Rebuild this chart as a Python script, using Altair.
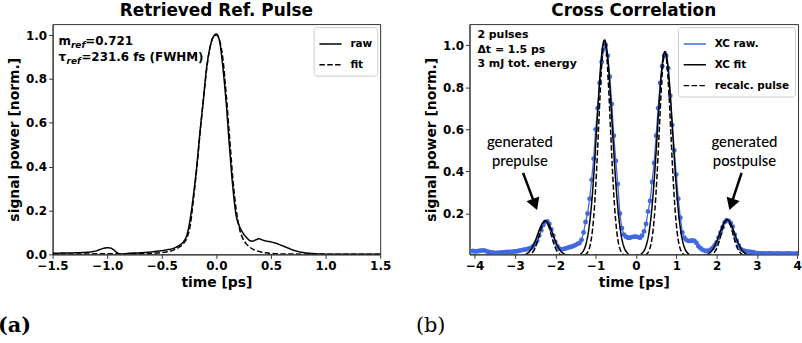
import altair as alt
import pandas as pd
import numpy as np

# ---------------- data: (a) retrieved reference pulse ----------------
ref_t = [-1.5, -1.4, -1.3, -1.2, -1.15, -1.1, -1.05, -1.0, -0.97, -0.94, -0.91, -0.88, -0.85, -0.8,
         -0.7, -0.6, -0.5, -0.45, -0.4, -0.35, -0.3, -0.27, -0.24, -0.21, -0.18, -0.15, -0.12, -0.09,
         -0.06, -0.03, 0.0, 0.03, 0.06, 0.09, 0.12, 0.15, 0.18, 0.21, 0.24, 0.27, 0.3, 0.33, 0.36,
         0.39, 0.42, 0.46, 0.5, 0.55, 0.6, 0.65, 0.7, 0.75, 0.8, 0.9, 1.0, 1.1, 1.2, 1.3, 1.4, 1.5]
ref_raw = [0.005, 0.006, 0.007, 0.009, 0.011, 0.016, 0.025, 0.030, 0.029, 0.020, 0.008, 0.002, 0.002, 0.005,
           0.007, 0.011, 0.017, 0.021, 0.026, 0.038, 0.058, 0.088, 0.16, 0.27, 0.40, 0.56, 0.70, 0.85,
           0.94, 0.99, 1.005, 0.97, 0.85, 0.69, 0.49, 0.31, 0.18, 0.13, 0.10, 0.08, 0.065, 0.060, 0.066,
           0.071, 0.066, 0.060, 0.057, 0.050, 0.040, 0.030, 0.020, 0.013, 0.008, 0.003, 0.001, 0.0, 0.0, 0.0, 0.0, 0.0]
fit_t = [-1.5, -1.2, -0.9, -0.7, -0.6, -0.5, -0.45, -0.4, -0.35, -0.3, -0.27, -0.24, -0.21, -0.18, -0.15,
         -0.12, -0.09, -0.06, -0.03, 0.0, 0.03, 0.06, 0.09, 0.12, 0.15, 0.18, 0.21, 0.24, 0.27, 0.3,
         0.35, 0.4, 0.45, 0.5, 0.6, 0.8, 1.0, 1.5]
fit_v = [0.001, 0.002, 0.003, 0.003, 0.004, 0.008, 0.012, 0.018, 0.030, 0.050, 0.075, 0.13, 0.25, 0.39, 0.55,
         0.70, 0.84, 0.94, 0.99, 1.0, 0.975, 0.89, 0.73, 0.54, 0.35, 0.21, 0.12, 0.075, 0.05, 0.035,
         0.02, 0.012, 0.007, 0.004, 0.002, 0.001, 0.001, 0.001]

# ---------------- data: (b) cross correlation ----------------
xc_t0, xc_dt = -4.10, 0.05
xc_raw = [
    0.020, 0.022, 0.020, 0.020, 0.022, 0.024, 0.025, 0.024, 0.020, 0.017,
    0.015, 0.014, 0.013, 0.013, 0.014, 0.014, 0.015, 0.016, 0.017, 0.017,
    0.018, 0.019, 0.020, 0.021, 0.023, 0.025, 0.027, 0.029, 0.031, 0.034,
    0.037, 0.045, 0.056, 0.072, 0.095, 0.120, 0.145, 0.160, 0.162, 0.150,
    0.125, 0.095, 0.065, 0.045, 0.033, 0.030, 0.031, 0.034, 0.037, 0.040,
    0.042, 0.046, 0.050, 0.056, 0.060, 0.075, 0.110, 0.160, 0.200, 0.270,
    0.360, 0.460, 0.600, 0.700, 0.820, 0.920, 0.980, 1.000, 0.950, 0.850,
    0.720, 0.570, 0.450, 0.340, 0.200, 0.130, 0.100, 0.090, 0.085, 0.085,
    0.088, 0.090, 0.090, 0.088, 0.085, 0.095, 0.115, 0.150, 0.210, 0.260,
    0.350, 0.440, 0.570, 0.700, 0.820, 0.900, 0.950, 0.950, 0.890, 0.760,
    0.620, 0.500, 0.385, 0.270, 0.180, 0.110, 0.085, 0.075, 0.070, 0.070,
    0.072, 0.070, 0.060, 0.045, 0.035, 0.028, 0.024, 0.022, 0.024, 0.028,
    0.036, 0.048, 0.063, 0.085, 0.110, 0.135, 0.158, 0.168, 0.165, 0.155,
    0.138, 0.100, 0.070, 0.048, 0.032, 0.025, 0.022, 0.020, 0.019, 0.018,
    0.016, 0.014, 0.012, 0.011, 0.010, 0.010, 0.010, 0.009, 0.010, 0.010,
    0.009, 0.009, 0.010, 0.010, 0.009, 0.009, 0.009, 0.010, 0.010, 0.009,
    0.009, 0.009, 0.010, 0.010, 0.009]

peak_centers = [-2.25, -0.78, 0.72, 2.26]
fit_offsets = [-0.60, -0.55, -0.50, -0.45, -0.40, -0.35, -0.30, -0.25, -0.20, -0.15, -0.10, -0.05, 0.0,
               0.05, 0.10, 0.15, 0.20, 0.25, 0.30, 0.35, 0.40, 0.45, 0.50, 0.55, 0.60]
xc_fit = [
    [0.001, 0.0025, 0.005, 0.010, 0.018, 0.030, 0.048, 0.069, 0.095, 0.121, 0.144, 0.159, 0.165,
     0.159, 0.144, 0.121, 0.095, 0.069, 0.048, 0.030, 0.018, 0.010, 0.005, 0.0025, 0.001],
    [0.007, 0.0155, 0.032, 0.062, 0.112, 0.188, 0.295, 0.432, 0.589, 0.750, 0.893, 0.990, 1.025,
     0.990, 0.893, 0.750, 0.589, 0.432, 0.295, 0.188, 0.112, 0.062, 0.032, 0.0155, 0.007],
    [0.0066, 0.0146, 0.030, 0.059, 0.106, 0.178, 0.279, 0.408, 0.558, 0.710, 0.845, 0.937, 0.970,
     0.937, 0.845, 0.710, 0.558, 0.408, 0.279, 0.178, 0.106, 0.059, 0.030, 0.0146, 0.0066],
    [0.0012, 0.0026, 0.005, 0.010, 0.019, 0.031, 0.049, 0.072, 0.098, 0.124, 0.148, 0.164, 0.170,
     0.164, 0.148, 0.124, 0.098, 0.072, 0.049, 0.031, 0.019, 0.010, 0.005, 0.0026, 0.0012],
]
pulse_offsets = [-0.50, -0.45, -0.40, -0.35, -0.30, -0.25, -0.20, -0.15, -0.10, -0.05, 0.0,
                 0.05, 0.10, 0.15, 0.20, 0.25, 0.30, 0.35, 0.40, 0.45, 0.50]
xc_pulse = [
    [0.0004, 0.0013, 0.004, 0.009, 0.019, 0.037, 0.064, 0.097, 0.130, 0.155, 0.165,
     0.155, 0.130, 0.097, 0.064, 0.037, 0.019, 0.009, 0.004, 0.0013, 0.0004],
    [0.003, 0.008, 0.023, 0.055, 0.120, 0.231, 0.394, 0.598, 0.804, 0.961, 1.020,
     0.961, 0.804, 0.598, 0.394, 0.231, 0.120, 0.055, 0.023, 0.008, 0.003],
    [0.0025, 0.008, 0.021, 0.052, 0.114, 0.218, 0.372, 0.565, 0.760, 0.909, 0.965,
     0.909, 0.760, 0.565, 0.372, 0.218, 0.114, 0.052, 0.021, 0.008, 0.0025],
    [0.0004, 0.0014, 0.004, 0.009, 0.020, 0.038, 0.066, 0.100, 0.134, 0.160, 0.170,
     0.160, 0.134, 0.100, 0.066, 0.038, 0.020, 0.009, 0.004, 0.0014, 0.0004],
]

# annotation texts
left_main = ["m", "=0.721", "τ", "=231.6 fs (FWHM)"]
left_sub = ["ref", "ref"]
right_notes = ["2 pulses", "Δt = 1.5 ps", "3 mJ tot. energy"]
arrow_labels = [["generated", "prepulse"], ["generated", "postpulse"]]
arrow_text_t = [-2.88, 2.69]
arrow_start = [(-2.80, 0.393), (2.62, 0.393)]
arrow_end = [(-2.55, 0.265), (2.40, 0.266)]
arrow_head = [(-2.505, 0.243), (2.364, 0.243)]
arrow_angle = [339.5, 18.4]

FONT = "DejaVu Sans"
BLUE = "#4169E1"
W1, W2, H = 330, 331, 232
XR_DOM = [-4.13, 4.02]
YR_DOM = [0.006, 1.10]

# ---------------- panel (a) ----------------
left_df = pd.concat([
    pd.DataFrame({"t": ref_t, "v": ref_raw, "series": "raw"}),
    pd.DataFrame({"t": fit_t, "v": fit_v, "series": "fit"}),
])

xL = alt.X("t:Q", scale=alt.Scale(domain=[-1.5, 1.5], nice=False, zero=False),
           axis=alt.Axis(values=[-1.5, -1.0, -0.5, 0.0, 0.5, 1.0, 1.5], format=".1f", title="time [ps]"))
yL = alt.Y("v:Q", scale=alt.Scale(domain=[0, 1.05], nice=False),
           axis=alt.Axis(values=[0.0, 0.2, 0.4, 0.6, 0.8, 1.0], format=".1f", title="signal power [norm.]"))

legend_common = dict(title=None, orient="top-right", offset=3, padding=5, fillColor="white",
                     strokeColor="#cccccc", cornerRadius=3, labelFont=FONT, labelFontSize=10.5,
                     labelFontWeight="bold", labelColor="black", symbolType="stroke", symbolSize=500,
                     symbolStrokeWidth=1.5, rowPadding=3, labelOffset=8)

left_lines = alt.Chart(left_df).mark_line(color="black", strokeWidth=1.5, interpolate="monotone", clip=True).encode(
    x=xL, y=yL,
    strokeDash=alt.StrokeDash("series:N", scale=alt.Scale(domain=["raw", "fit"], range=[[1, 0], [5.5, 2.4]]),
                              legend=alt.Legend(symbolStrokeColor="black", **legend_common)),
)

lm_df = pd.DataFrame({"txt": left_main, "px": [6, 33, 6, 29], "py": [21, 21, 37.5, 37.5]})
ls_df = pd.DataFrame({"txt": left_sub, "px": [18.5, 14], "py": [24, 40.5]})
left_text = alt.Chart(lm_df).mark_text(align="left", baseline="alphabetic", font=FONT, fontWeight="bold",
                                       fontSize=12, color="black").encode(
    x=alt.X("px:Q", scale=None), y=alt.Y("py:Q", scale=None), text="txt:N")
left_sub_text = alt.Chart(ls_df).mark_text(align="left", baseline="alphabetic", font=FONT, fontWeight="bold",
                                           fontStyle="italic", fontSize=9, color="black").encode(
    x=alt.X("px:Q", scale=None), y=alt.Y("py:Q", scale=None), text="txt:N")
lab_a = alt.Chart(pd.DataFrame({"l": ["(a)"]})).mark_text(
    align="left", baseline="alphabetic", font="DejaVu Serif", fontSize=21, fontWeight="bold", color="black"
).encode(x=alt.value(-55), y=alt.value(310), text="l:N")

left = alt.layer(left_lines, left_text, left_sub_text, lab_a).properties(
    width=W1, height=H, title="Retrieved Ref. Pulse")

# ---------------- panel (b) ----------------
xc_t = np.round(xc_t0 + xc_dt * np.arange(len(xc_raw)), 3)
raw_df = pd.DataFrame({"t": xc_t, "v": xc_raw, "series": "XC raw.", "peak": 0})
rows = []
for k, c in enumerate(peak_centers):
    rows.append(pd.DataFrame({"t": np.round(c + np.array(fit_offsets), 3), "v": xc_fit[k],
                              "series": "XC fit", "peak": k + 1}))
    rows.append(pd.DataFrame({"t": np.round(c + np.array(pulse_offsets), 3), "v": xc_pulse[k],
                              "series": "recalc. pulse", "peak": k + 11}))
fits_df = pd.concat(rows)

dom = ["XC raw.", "XC fit", "recalc. pulse"]
xR = alt.X("t:Q", scale=alt.Scale(domain=XR_DOM, nice=False, zero=False),
           axis=alt.Axis(values=[-4, -3, -2, -1, 0, 1, 2, 3, 4], format="d", title="time [ps]"))
yR = alt.Y("v:Q", scale=alt.Scale(domain=YR_DOM, nice=False, zero=False),
           axis=alt.Axis(values=[0.2, 0.4, 0.6, 0.8, 1.0], format=".1f", title="signal power [norm.]"))
colR = alt.Color("series:N", scale=alt.Scale(domain=dom, range=[BLUE, "black", "black"]),
                 legend=alt.Legend(**legend_common))
dashR = alt.StrokeDash("series:N", scale=alt.Scale(domain=dom, range=[[1, 0], [1, 0], [5.5, 2.4]]),
                       legend=alt.Legend(**legend_common))

raw_line = alt.Chart(raw_df).mark_line(strokeWidth=1.3, clip=True).encode(
    x=xR, y=yR, color=colR, strokeDash=dashR)
raw_pts = alt.Chart(raw_df).mark_circle(size=24, color=BLUE, opacity=1, clip=True).encode(x=xR, y=yR)
fit_lines = alt.Chart(fits_df).mark_line(strokeWidth=1.5, interpolate="monotone", clip=True).encode(
    x=xR, y=yR, color=colR, strokeDash=dashR, detail="peak:N")

rn_df = pd.DataFrame({"txt": right_notes, "py": [14, 29, 43]})
right_text = alt.Chart(rn_df).mark_text(align="left", baseline="alphabetic", font=FONT, fontWeight="bold",
                                        fontSize=11, color="black").encode(
    x=alt.value(8), y=alt.Y("py:Q", scale=None), text="txt:N")

ann_rows = []
for k in range(2):
    ann_rows.append({"t": arrow_text_t[k], "v": 0.542, "txt": arrow_labels[k][0]})
    ann_rows.append({"t": arrow_text_t[k], "v": 0.448, "txt": arrow_labels[k][1]})
ann_df = pd.DataFrame(ann_rows)
ann_text = alt.Chart(ann_df).mark_text(font="Lato", fontSize=15, fontWeight=500, color="black",
                                       baseline="middle").encode(x=xR, y=yR, text="txt:N")

arr_df = pd.DataFrame({"t": [s[0] for s in arrow_start], "v": [s[1] for s in arrow_start],
                       "t2": [e[0] for e in arrow_end], "v2": [e[1] for e in arrow_end],
                       "th": [h[0] for h in arrow_head], "vh": [h[1] for h in arrow_head],
                       "ang": arrow_angle})
arr_line = alt.Chart(arr_df).mark_rule(strokeWidth=2.5, color="black").encode(
    x=xR, y=yR, x2="t2:Q", y2="v2:Q")
arr_head = alt.Chart(arr_df).mark_point(shape="triangle-down", filled=True, color="black", size=190,
                                        opacity=1).encode(
    x=alt.X("th:Q", scale=alt.Scale(domain=XR_DOM, nice=False, zero=False)),
    y=alt.Y("vh:Q", scale=alt.Scale(domain=YR_DOM, nice=False, zero=False)),
    angle=alt.Angle("ang:Q", scale=None))

lab_b = alt.Chart(pd.DataFrame({"l": ["(b)"]})).mark_text(
    align="left", baseline="alphabetic", font="DejaVu Serif", fontSize=21, color="black"
).encode(x=alt.value(-54), y=alt.value(310), text="l:N")

right = alt.layer(raw_line, raw_pts, fit_lines, right_text, ann_text, arr_line, arr_head, lab_b).properties(
    width=W2, height=H, title="Cross Correlation")

chart = alt.hconcat(left, right, spacing=23).resolve_scale(
    color="independent", strokeDash="independent"
).resolve_legend(color="independent", strokeDash="independent").configure(
    padding={"left": -3, "top": 0, "right": 0, "bottom": 0},
    font=FONT,
).configure_view(stroke="#333333", strokeWidth=1).configure_axis(
    grid=False, domainColor="#333333", tickColor="#333333", tickSize=4, labelPadding=2,
    labelFont=FONT, labelFontSize=12, labelFontWeight="bold", labelColor="black",
    titleFont=FONT, titleFontSize=14, titleFontWeight="bold", titleColor="black",
    labelFlush=False, labelOverlap=False, titlePadding=4,
).configure_title(font=FONT, fontSize=17, fontWeight="bold", color="black", offset=4, anchor="middle")

chart.save("out.html", embed_options={"renderer": "svg", "actions": False})
